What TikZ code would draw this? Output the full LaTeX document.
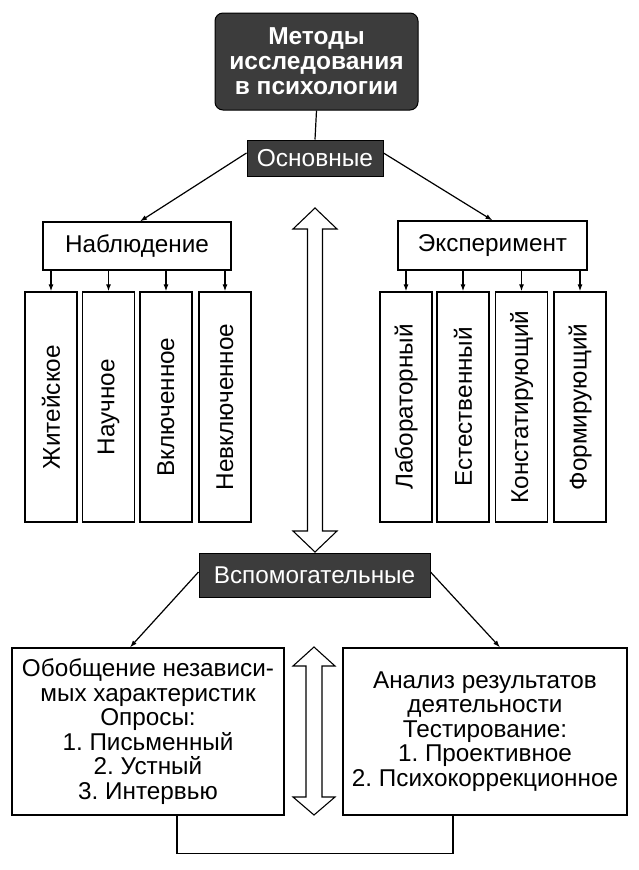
\documentclass[tikz,border=0pt]{standalone}
\usepackage{fontspec}
\setmainfont{Liberation Sans}
\frenchspacing
\usetikzlibrary{arrows.meta,calc}
\definecolor{darkbox}{HTML}{3C3C3C}
\tikzset{
  darknode/.style={draw=black, line width=1pt, fill=darkbox, text=white, inner sep=0pt, align=center},
  whitebox/.style={draw=black, line width=1.3pt, fill=white, inner sep=0pt, align=center, font=\fontsize{24.3}{24.5}\selectfont},
  vbox/.style={whitebox, minimum width=52pt, minimum height=230pt},
  conn/.style={line width=1.2pt, -{Latex[length=7pt,width=5pt]}},
  plain/.style={line width=1.2pt},
  dblarrow/.style={line width=1.1pt, fill=white, line join=miter}
}
\begin{document}
\begin{tikzpicture}[x=1pt,y=-1pt]
\useasboundingbox[fill=white] (0,0) rectangle (638,870);
% top
\node[darknode, rounded corners=8pt, minimum width=203pt, minimum height=97pt,
      font=\bfseries\fontsize{24.5}{25}\selectfont] (top) at (316.5,61.5)
      {Методы\\исследования\\в психологии};
\node[darknode, minimum width=136pt, minimum height=36pt, font=\fontsize{24.5}{24}\selectfont]
      (osn) at (315,158) {Основные};
\draw[plain] (top.south) -- (osn.north);
% second level
\node[whitebox, minimum width=188pt, minimum height=48pt] (nab) at (137,246) {Наблюдение};
\node[whitebox, minimum width=189pt, minimum height=49pt] (exp) at (492.5,245.5) {Эксперимент};
\draw[conn] ([yshift=5pt]osn.west) -- ([xshift=3pt]nab.north);
\draw[conn] ([yshift=5pt]osn.east) -- (exp.north);
% vertical boxes left
\node[vbox] (l1) at (51,407) {\rotatebox{90}{Житейское}};
\node[vbox] (l2) at (108.5,407) {\rotatebox{90}{Научное}};
\node[vbox] (l3) at (166,407) {\rotatebox{90}{Включенное}};
\node[vbox] (l4) at (225,407) {\rotatebox{90}{Невключенное}};
\foreach \b in {l1,l2,l3,l4}{\draw[conn] (nab.south -| \b.north) -- (\b.north);}
% vertical boxes right
\node[vbox] (r1) at (406,407) {\rotatebox{90}{Лабораторный}};
\node[vbox] (r2) at (463,407) {\rotatebox{90}{Естественный}};
\node[vbox] (r3) at (521.5,407) {\rotatebox{90}{Констатирующий}};
\node[vbox] (r4) at (580,407) {\rotatebox{90}{Формирующий}};
\foreach \b in {r1,r2,r3,r4}{\draw[conn] (exp.south -| \b.north) -- (\b.north);}
% auxiliary
\node[darknode, minimum width=231pt, minimum height=44pt, font=\fontsize{24.3}{24}\selectfont]
      (vsp) at (314.5,575) {Вспомогательные};
\node[whitebox, minimum width=272pt, minimum height=167pt] (lb) at (148,731.5)
  {Обобщение независи-\\мых характеристик\\Опросы:\\1. Письменный\\2. Устный\\3. Интервью};
\node[whitebox, minimum width=284pt, minimum height=167pt] (rb) at (485,731.5)
  {Анализ результатов\\деятельности\\Тестирование:\\1. Проективное\\2. Психокоррекционное};
\draw[conn] ([yshift=3pt]vsp.west) -- ([xshift=-18pt]lb.north);
\draw[conn] ([yshift=3pt]vsp.east) -- ([xshift=15pt]rb.north);
\draw[plain] ([xshift=29pt]lb.south) -- ++(0,38) -| ([xshift=-32pt]rb.south);
% hollow double arrows
\draw[dblarrow] (315,208) -- (337,229) -- (322.5,229) -- (322.5,531) -- (337,531) -- (315,552)
  -- (293,531) -- (307.5,531) -- (307.5,229) -- (293,229) -- cycle;
\draw[dblarrow] (314,647) -- (335,666) -- (322,666) -- (322,797) -- (335,797) -- (314,815)
  -- (293,797) -- (306,797) -- (306,666) -- (293,666) -- cycle;
\end{tikzpicture}
\end{document}
